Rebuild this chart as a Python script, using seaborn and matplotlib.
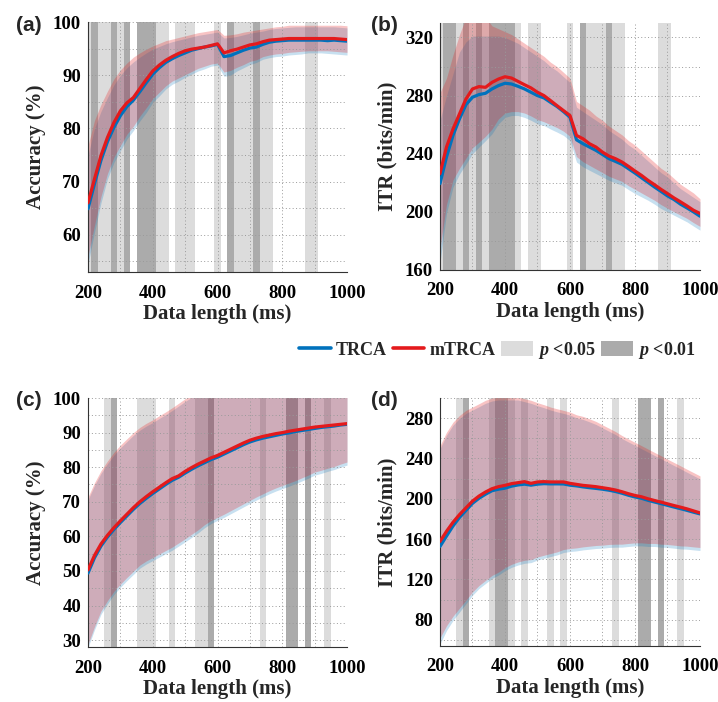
import numpy as np
import pandas as pd
import matplotlib
matplotlib.use("Agg")
import matplotlib.pyplot as plt
from matplotlib.lines import Line2D
from matplotlib.patches import Patch
from matplotlib.ticker import MultipleLocator
import seaborn as sns

sns.set_theme(style="white")
plt.rcParams["font.family"] = ["Liberation Serif", "DejaVu Serif"]
plt.rcParams["font.weight"] = "bold"
plt.rcParams["mathtext.fontset"] = "custom"
plt.rcParams["mathtext.it"] = "Liberation Serif:italic:bold"
plt.rcParams["mathtext.rm"] = "Liberation Serif:bold"

# data lengths (ms)
data_len = list(range(200, 1001, 20))

# ---- (a) accuracy, dataset 1 ----
acc_trca_a = [64.9, 69.6, 74.0, 77.5, 80.2, 82.4, 84.1, 85.3, 86.9, 88.6, 90.2, 91.4, 92.4, 93.1, 93.7, 94.2, 94.7, 95.0, 95.3, 95.5, 95.8,
              93.5, 93.7, 94.2, 94.7, 95.1, 95.3, 95.8, 96.2, 96.4, 96.5, 96.6, 96.6, 96.6, 96.6, 96.6, 96.6, 96.5, 96.6, 96.5, 96.4]
acc_mtrca_a = [66.0, 70.5, 74.9, 78.3, 81.1, 83.3, 84.8, 85.8, 87.5, 89.2, 90.8, 91.9, 92.8, 93.5, 94.1, 94.6, 94.9, 95.1, 95.3, 95.6, 95.9,
               94.2, 94.6, 94.9, 95.3, 95.7, 95.9, 96.3, 96.6, 96.7, 96.8, 96.9, 96.9, 96.9, 96.9, 96.9, 96.9, 96.9, 96.9, 96.8, 96.7]
acc_trca_a_lo = [54.5, 60.5, 66.0, 70.5, 73.6, 75.8, 78.0, 79.6, 81.4, 83.0, 84.9, 86.1, 87.4, 88.3, 88.9, 89.6, 90.2, 90.8, 91.2, 91.7, 91.9,
                 89.8, 90.0, 90.8, 91.4, 92.0, 92.4, 93.0, 93.3, 93.5, 93.6, 93.8, 93.9, 94.0, 94.2, 94.2, 94.2, 94.1, 94.0, 93.9, 93.8]
acc_trca_a_hi = [75.0, 80.0, 83.2, 85.8, 88.2, 90.0, 91.4, 92.5, 93.4, 94.2, 94.9, 95.4, 95.9, 96.3, 96.6, 96.9, 97.2, 97.5, 97.7, 97.9, 98.1,
                 97.0, 97.1, 97.3, 97.6, 97.9, 98.1, 98.3, 98.6, 98.8, 98.9, 99.0, 99.1, 99.1, 99.1, 99.1, 99.1, 99.1, 99.1, 99.0, 98.9]
acc_mtrca_a_lo = [56.0, 61.8, 67.2, 71.5, 74.6, 76.8, 78.9, 80.4, 82.3, 83.9, 85.6, 86.8, 88.0, 88.9, 89.5, 90.1, 90.7, 91.3, 91.7, 92.1, 92.3,
                  90.6, 90.9, 91.5, 92.0, 92.6, 92.9, 93.5, 93.8, 94.0, 94.1, 94.3, 94.4, 94.5, 94.6, 94.6, 94.6, 94.6, 94.5, 94.4, 94.3]
acc_mtrca_a_hi = [76.8, 81.5, 84.5, 87.0, 89.3, 91.0, 92.3, 93.4, 94.2, 94.9, 95.5, 96.0, 96.5, 96.8, 97.1, 97.4, 97.7, 98.0, 98.2, 98.4, 98.6,
                  97.5, 97.6, 97.8, 98.1, 98.3, 98.5, 98.7, 98.9, 99.1, 99.2, 99.4, 99.4, 99.4, 99.4, 99.4, 99.4, 99.4, 99.4, 99.4, 99.3]
# significance per data length: 0 = n.s., 1 = p<0.05, 2 = p<0.01
sig_a = [1, 2, 1, 1, 2, 1, 2, 0, 2, 2, 2, 1, 1, 0, 1, 1, 1, 0, 0, 0, 1,
         0, 2, 1, 1, 1, 2, 1, 1, 0, 0, 0, 0, 0, 1, 1, 0, 0, 0, 0, 0]

# ---- (b) ITR, dataset 1 ----
itr_trca_b = [219.4, 237.7, 252.6, 264.0, 273.8, 278.9, 280.7, 281.6, 284.6, 286.9, 288.5, 288.0, 286.4, 284.6, 282.3, 280.0, 278.4, 275.4, 272.5, 269.0, 265.1,
              249.6, 246.9, 244.6, 242.3, 239.5, 236.6, 234.7, 232.7, 229.7, 226.7, 223.5, 220.3, 217.1, 214.1, 211.0, 208.5, 205.3, 202.7, 200.0, 197.0]
itr_mtrca_b = [226.3, 244.6, 257.0, 267.4, 277.7, 284.6, 286.2, 285.7, 289.1, 291.4, 293.0, 292.1, 289.8, 287.5, 285.3, 282.3, 280.0, 276.6, 273.1, 269.7, 266.3,
               252.6, 250.3, 246.9, 244.6, 241.1, 238.4, 236.6, 234.3, 231.3, 228.1, 225.1, 221.7, 218.7, 215.5, 212.6, 209.6, 206.9, 204.1, 201.1, 198.9]
itr_trca_b_lo = [165.0, 199.0, 217.0, 226.0, 233.0, 240.0, 244.6, 249.0, 253.7, 260.6, 265.0, 266.3, 266.3, 265.0, 263.0, 260.6, 259.4, 257.0, 254.9, 252.6, 249.0,
                 234.3, 231.0, 228.6, 226.3, 224.0, 221.7, 219.9, 218.3, 215.3, 212.6, 210.3, 208.0, 205.3, 202.3, 200.0, 197.7, 195.4, 193.1, 190.2, 187.4]
itr_trca_b_hi = [263.0, 280.0, 295.0, 310.0, 317.0, 321.0, 321.0, 321.0, 321.0, 321.0, 320.0, 318.0, 316.0, 313.0, 310.0, 307.0, 304.0, 300.0, 297.0, 293.0, 289.0,
                 272.0, 269.0, 266.0, 263.0, 260.0, 256.0, 253.0, 250.0, 246.0, 243.0, 239.0, 235.0, 231.0, 227.0, 224.0, 220.0, 216.0, 213.0, 210.0, 207.0]
itr_mtrca_b_lo = [175.0, 205.0, 222.0, 230.0, 237.0, 244.0, 248.0, 252.0, 257.0, 264.0, 268.0, 269.0, 269.0, 268.0, 266.0, 263.5, 262.0, 260.0, 258.0, 255.5, 252.0,
                  238.0, 234.5, 232.0, 229.5, 227.0, 224.5, 222.7, 221.0, 218.0, 215.5, 213.0, 210.5, 208.0, 205.0, 202.5, 200.0, 197.8, 195.5, 192.6, 190.0]
itr_mtrca_b_hi = [282.0, 292.0, 308.0, 322.0, 334.0, 336.0, 336.0, 334.0, 328.0, 326.0, 324.0, 322.0, 319.0, 316.0, 313.0, 310.0, 307.0, 303.0, 300.0, 296.0, 292.0,
                  276.0, 273.0, 270.0, 266.0, 263.0, 259.0, 256.0, 253.0, 249.0, 246.0, 242.0, 238.0, 234.0, 230.0, 227.0, 223.0, 219.0, 216.0, 213.0, 209.0]
sig_b = [1, 2, 2, 1, 2, 1, 2, 1, 2, 2, 2, 2, 1, 0, 1, 1, 0, 0, 0, 0, 1,
         0, 2, 1, 1, 1, 2, 1, 1, 0, 0, 0, 0, 0, 1, 1, 0, 0, 0, 0, 0]

# ---- (c) accuracy, dataset 2 ----
acc_trca_c = [49.4, 53.8, 57.2, 59.8, 62.0, 64.0, 65.9, 67.8, 69.5, 71.0, 72.4, 73.7, 75.0, 76.2, 77.1, 78.3, 79.4, 80.4, 81.3, 82.2, 82.9,
              83.8, 84.7, 85.6, 86.5, 87.3, 87.9, 88.4, 88.8, 89.2, 89.6, 89.9, 90.3, 90.6, 90.9, 91.2, 91.5, 91.7, 91.9, 92.2, 92.4]
acc_mtrca_c = [50.3, 54.5, 57.8, 60.3, 62.5, 64.5, 66.4, 68.3, 70.0, 71.5, 72.9, 74.2, 75.5, 76.7, 77.5, 78.8, 79.9, 80.9, 81.8, 82.7, 83.4,
               84.3, 85.2, 86.1, 87.0, 87.8, 88.4, 88.9, 89.3, 89.7, 90.0, 90.4, 90.7, 91.0, 91.3, 91.6, 91.8, 92.0, 92.2, 92.4, 92.6]
acc_trca_c_lo = [27.9, 33.0, 37.5, 40.5, 43.2, 45.3, 47.2, 49.0, 50.8, 52.0, 53.0, 54.0, 55.0, 56.0, 57.2, 58.4, 59.7, 61.0, 62.5, 63.7, 64.6,
                 65.5, 66.5, 67.5, 68.5, 69.5, 70.5, 71.4, 72.3, 73.1, 73.8, 74.5, 75.2, 76.0, 76.8, 77.7, 78.2, 78.8, 79.3, 80.0, 80.6]
acc_trca_c_hi = [70.6, 74.7, 78.2, 81.0, 83.5, 85.6, 87.4, 89.2, 90.7, 91.9, 92.9, 94.1, 95.2, 96.4, 97.7, 99.0, 100.2, 101.2, 102.0, 102.7, 103.2,
                 103.6, 104.0, 104.4, 104.7, 105.0, 105.2, 105.4, 105.5, 105.6, 105.6, 105.6, 105.5, 105.4, 105.3, 105.2, 105.0, 104.8, 104.6, 104.4, 104.2]
acc_mtrca_c_lo = [28.8, 33.9, 38.4, 41.4, 44.1, 46.2, 48.1, 49.9, 51.7, 52.9, 53.9, 54.9, 55.9, 56.9, 58.1, 59.3, 60.6, 61.9, 63.4, 64.6, 65.5,
                  66.4, 67.4, 68.4, 69.4, 70.4, 71.4, 72.3, 73.2, 74.0, 74.7, 75.4, 76.1, 76.9, 77.7, 78.6, 79.1, 79.7, 80.2, 80.9, 81.5]
acc_mtrca_c_hi = [71.4, 75.5, 79.0, 81.8, 84.3, 86.4, 88.2, 90.0, 91.5, 92.7, 93.7, 94.9, 96.0, 97.2, 98.5, 99.8, 101.0, 102.0, 102.8, 103.5, 104.0,
                  104.4, 104.8, 105.2, 105.5, 105.8, 106.0, 106.2, 106.3, 106.4, 106.4, 106.4, 106.3, 106.2, 106.1, 106.0, 105.8, 105.6, 105.4, 105.2, 105.0]
sig_c = [0, 0, 0, 1, 2, 0, 0, 0, 1, 1, 1, 0, 0, 1, 0, 0, 0, 1, 1, 2, 0,
         0, 0, 0, 0, 0, 0, 1, 0, 0, 0, 2, 2, 0, 2, 0, 0, 1, 0, 0, 0]

# ---- (d) ITR, dataset 2 ----
itr_trca_d = [152.7, 163.0, 173.0, 181.5, 188.5, 195.5, 200.5, 204.5, 208.0, 209.5, 210.5, 212.5, 213.7, 214.5, 213.5, 214.5, 215.0, 214.8, 214.8, 214.7, 213.5,
              212.8, 211.8, 211.0, 210.3, 209.5, 208.5, 207.2, 205.5, 203.5, 201.8, 200.5, 198.5, 196.8, 195.2, 193.5, 191.8, 190.2, 188.5, 186.7, 185.0]
itr_mtrca_d = [157.7, 167.7, 176.7, 184.3, 191.0, 197.7, 202.7, 206.7, 210.0, 212.0, 213.3, 215.0, 216.0, 217.0, 215.3, 216.7, 217.0, 216.7, 216.7, 216.7, 215.3,
               214.3, 213.3, 212.7, 212.0, 211.0, 210.0, 208.7, 207.0, 205.0, 203.3, 202.0, 200.0, 198.3, 196.7, 195.0, 193.3, 191.7, 190.0, 188.0, 186.0]
itr_trca_d_lo = [56.0, 69.3, 79.3, 87.7, 96.0, 104.3, 111.0, 116.0, 121.0, 124.3, 128.7, 132.0, 134.3, 136.0, 136.7, 139.3, 141.0, 142.7, 144.3, 146.7, 147.7,
                 148.3, 149.3, 150.0, 150.7, 151.0, 151.7, 152.0, 152.0, 152.7, 153.3, 153.3, 152.7, 152.7, 152.0, 151.7, 151.0, 150.3, 150.0, 149.3, 148.7]
itr_trca_d_hi = [249.7, 263.0, 273.0, 279.7, 284.7, 288.0, 291.3, 294.7, 297.0, 298.0, 298.0, 298.0, 298.0, 296.3, 294.7, 292.3, 290.3, 288.0, 286.3, 284.7, 283.0,
                 280.3, 278.7, 276.3, 273.7, 270.3, 267.0, 263.7, 259.7, 256.3, 253.0, 249.7, 246.3, 243.0, 239.7, 236.3, 233.0, 229.7, 226.3, 223.0, 219.7]
itr_mtrca_d_lo = [62.0, 74.0, 83.5, 91.5, 99.5, 107.5, 114.0, 119.0, 124.0, 127.3, 131.7, 135.0, 137.3, 139.0, 139.7, 142.3, 144.0, 145.7, 147.3, 149.7, 150.7,
                  151.3, 152.3, 153.0, 153.7, 154.0, 154.7, 155.0, 155.0, 155.7, 156.3, 156.3, 155.7, 155.7, 155.0, 154.7, 154.0, 153.3, 153.0, 152.3, 151.7]
itr_mtrca_d_hi = [252.7, 266.0, 276.0, 282.7, 287.7, 291.0, 294.3, 297.7, 300.0, 301.0, 301.0, 301.0, 301.0, 299.3, 297.7, 295.3, 293.3, 291.0, 289.3, 287.7, 286.0,
                  283.3, 281.7, 279.3, 276.7, 273.3, 270.0, 266.7, 262.7, 259.3, 256.0, 252.7, 249.3, 246.0, 242.7, 239.3, 236.0, 232.7, 229.3, 226.0, 222.7]
sig_d = [0, 0, 0, 1, 2, 0, 0, 0, 1, 2, 2, 1, 0, 1, 0, 0, 0, 1, 0, 1, 0,
         0, 0, 0, 0, 0, 0, 1, 0, 0, 0, 2, 2, 0, 2, 0, 0, 1, 0, 0, 0]

# colours
c_trca = "#0072BD"
c_mtrca = "#E41A1C"
c_p05 = "#DCDCDC"
c_p01 = "#ABABAB"


def draw_panel(ax, t_mean, m_mean, t_lo, t_hi, m_lo, m_hi, sig, ylim, ymaj, ymin, ylabel, letter):
    x = np.array(data_len)
    # significance shading
    for xi, s in zip(x, sig):
        if s == 1:
            ax.axvspan(xi - 10, xi + 10, color=c_p05, lw=0, zorder=0.2)
        elif s == 2:
            ax.axvspan(xi - 10, xi + 10, color=c_p01, lw=0, zorder=0.2)
    # std bands
    ax.fill_between(x, t_lo, t_hi, color=c_trca, alpha=0.22, lw=0, zorder=1)
    ax.fill_between(x, m_lo, m_hi, color=c_mtrca, alpha=0.26, lw=0, zorder=1.1)
    df = pd.DataFrame({"len": np.concatenate([x, x]),
                       "val": np.concatenate([t_mean, m_mean]),
                       "method": ["TRCA"] * len(x) + ["mTRCA"] * len(x)})
    sns.lineplot(data=df, x="len", y="val", hue="method", palette={"TRCA": c_trca, "mTRCA": c_mtrca},
                 lw=2.3, ax=ax, legend=False, zorder=3)
    ax.set_xlim(200, 1000)
    ax.set_ylim(*ylim)
    ax.xaxis.set_major_locator(MultipleLocator(200))
    ax.xaxis.set_minor_locator(MultipleLocator(100))
    ax.yaxis.set_major_locator(MultipleLocator(ymaj))
    ax.yaxis.set_minor_locator(MultipleLocator(ymin))
    ax.set_axisbelow("line")
    ax.grid(True, which="both", ls=(0, (1, 2.5)), color="#9a9a9a", lw=0.7)
    for sp in ["top", "right"]:
        ax.spines[sp].set_visible(False)
    for sp in ["left", "bottom"]:
        ax.spines[sp].set_color("#333333")
        ax.spines[sp].set_linewidth(0.8)
    ax.tick_params(which="both", direction="in", length=2.5, width=0.6, colors="#333333",
                   labelcolor="black", labelsize=13.5, top=False, right=False)
    ax.tick_params(axis="x", pad=9)
    ax.tick_params(axis="y", pad=5)
    ax.set_xlabel("Data length (ms)", fontsize=15, fontweight="bold", labelpad=2)
    ax.set_ylabel(ylabel, fontsize=15, fontweight="bold", labelpad=5)
    ax.figure.text(*letter[1], letter[0], fontsize=15, fontweight="bold",
                   family="Liberation Sans", ha="center", va="center")


fig = plt.figure(figsize=(7.18, 7.02), dpi=100)
ax_a = fig.add_axes([0.1226, 0.6125, 0.3607, 0.3561])
ax_b = fig.add_axes([0.6128, 0.6154, 0.3621, 0.3519])
ax_c = fig.add_axes([0.1226, 0.0783, 0.3607, 0.3547])
ax_d = fig.add_axes([0.6128, 0.0798, 0.3621, 0.3533])

draw_panel(ax_a, acc_trca_a, acc_mtrca_a, acc_trca_a_lo, acc_trca_a_hi, acc_mtrca_a_lo, acc_mtrca_a_hi,
           sig_a, (53, 100), 10, 5, "Accuracy (%)", ("(a)", (0.040, 0.963)))
draw_panel(ax_b, itr_trca_b, itr_mtrca_b, itr_trca_b_lo, itr_trca_b_hi, itr_mtrca_b_lo, itr_mtrca_b_hi,
           sig_b, (160, 330), 40, 20, "ITR (bits/min)", ("(b)", (0.535, 0.963)))
draw_panel(ax_c, acc_trca_c, acc_mtrca_c, acc_trca_c_lo, acc_trca_c_hi, acc_mtrca_c_lo, acc_mtrca_c_hi,
           sig_c, (28, 100), 10, 5, "Accuracy (%)", ("(c)", (0.040, 0.429)))
draw_panel(ax_d, itr_trca_d, itr_mtrca_d, itr_trca_d_lo, itr_trca_d_hi, itr_mtrca_d_lo, itr_mtrca_d_hi,
           sig_d, (54, 300), 40, 20, "ITR (bits/min)", ("(d)", (0.535, 0.429)))

handles = [Line2D([], [], color=c_trca, lw=2.6),
           Line2D([], [], color=c_mtrca, lw=2.6),
           Patch(facecolor=c_p05, edgecolor="none"),
           Patch(facecolor=c_p01, edgecolor="none")]
labels = ["TRCA", "mTRCA", r"$p$ <0.05", r"$p$ <0.01"]
fig.legend(handles, labels, loc="center", bbox_to_anchor=(0.693, 0.5014), ncol=4, frameon=False,
           prop={"family": "Liberation Serif", "weight": "bold", "size": 13},
           handlelength=1.75, handleheight=0.9, handletextpad=0.3, columnspacing=0.3)

fig.savefig("out.png", dpi=100)
